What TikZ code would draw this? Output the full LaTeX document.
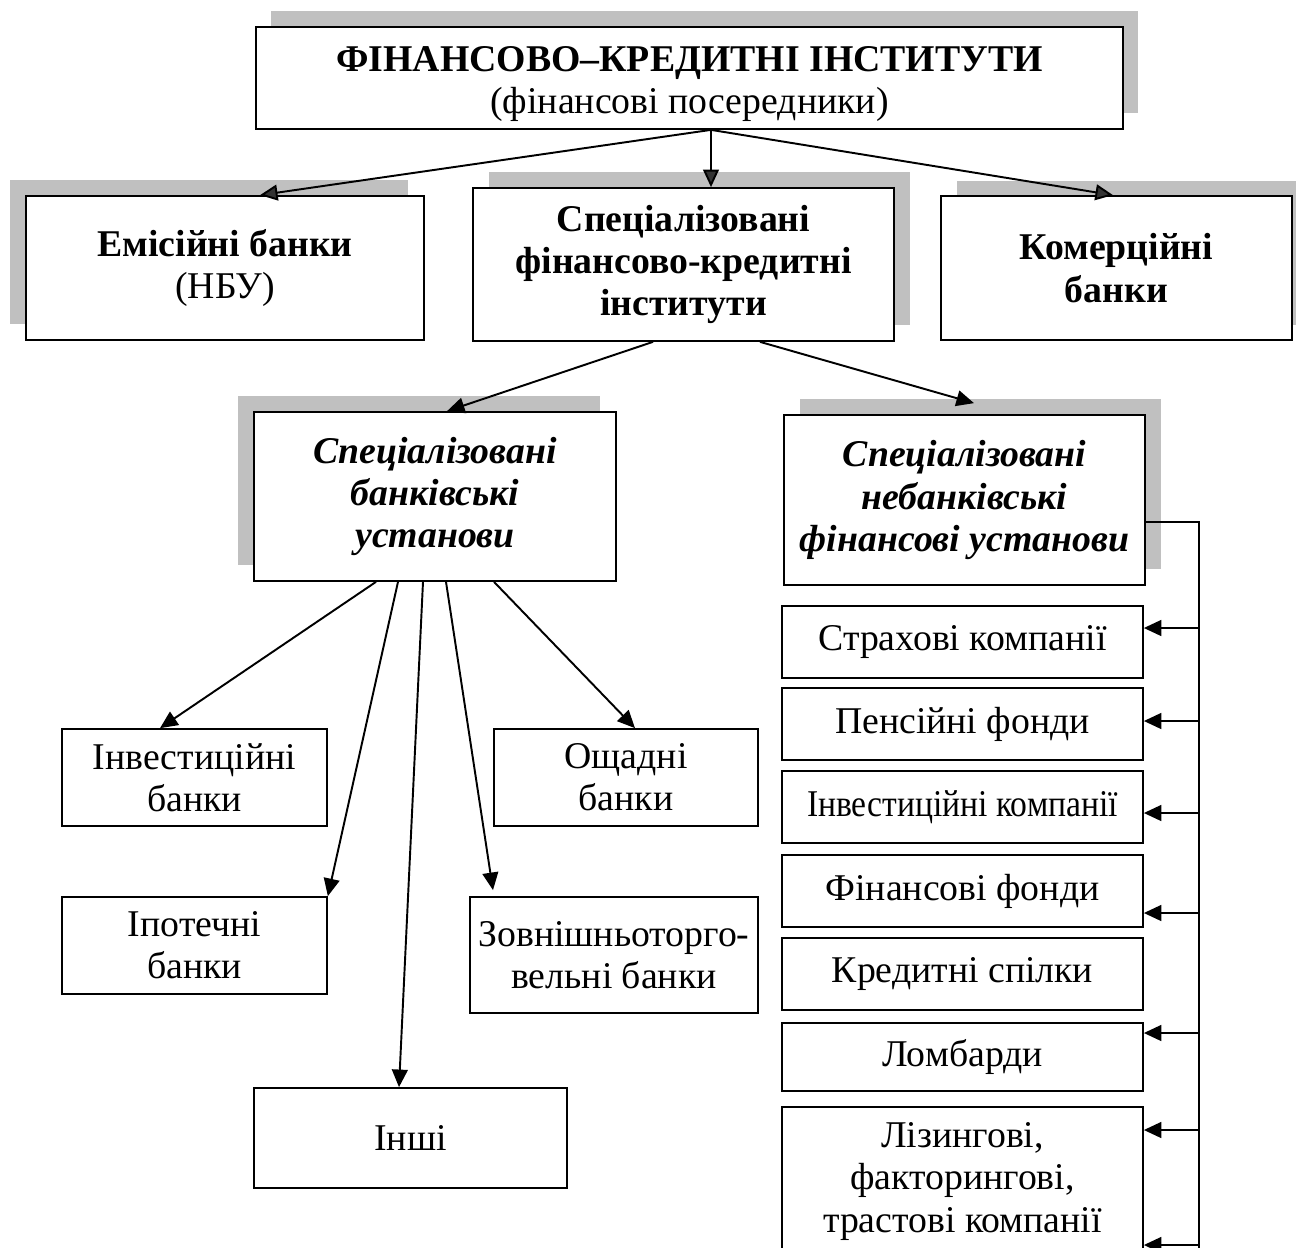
\documentclass[tikz,border=0pt]{standalone}
\usepackage{fontspec}
\usepackage{graphicx}
\setmainfont{Liberation Serif}
\usetikzlibrary{arrows.meta,shadows,calc}
\definecolor{shadegray}{HTML}{C0C0C0}
\begin{document}
\begin{tikzpicture}[x=0.02cm,y=-0.02cm,
  bx/.style={draw, line width=1pt, fill=white, inner sep=0pt, align=center,
    font=\fontsize{21.5}{24}\selectfont},
  bold/.style={font=\fontsize{21.5}{24}\selectfont\bfseries},
  bolditalic/.style={font=\fontsize{21.5}{24}\selectfont\bfseries\itshape},
  shR/.style={general shadow={fill=shadegray, shadow xshift=0.32cm, shadow yshift=0.32cm}},
  shL/.style={general shadow={fill=shadegray, shadow xshift=-0.32cm, shadow yshift=0.32cm}},
  arrT/.style={line width=1.1pt, -{Triangle[length=10pt,width=9pt,fill=black!80]}},
  arr/.style={line width=1.1pt, -{Triangle[length=10pt,width=9pt]}},
  harr/.style={line width=1.3pt, -{Triangle[length=10pt,width=9pt]}},
  trunkline/.style={line width=0.8pt}]

\path[use as bounding box, clip] (0,0) rectangle (1296,1248);

% upper level
\node[bx, general shadow={fill=shadegray, shadow xshift=0.30cm, shadow yshift=0.32cm},
  minimum width=17.34cm, minimum height=2.04cm] (top) at (689.5,78)
  {\rule{0pt}{21pt}\textbf{ФІНАНСОВО–КРЕДИТНІ ІНСТИТУТИ}\\(фінансові посередники)};

\node[bx, shL, minimum width=7.96cm, minimum height=2.88cm] (emis) at (225,268)
  {\textbf{Емісійні банки}\\(НБУ)};
\node[bx, bold, shR, minimum width=8.42cm, minimum height=3.06cm] (mid) at (683.5,264.5)
  {Спеціалізовані\\фінансово-кредитні\\інститути};
\node[bx, bold, general shadow={fill=shadegray, shadow xshift=0.32cm, shadow yshift=0.30cm},
  minimum width=7.02cm, minimum height=2.88cm] (comm) at (1116.5,268)
  {Комерційні\\банки};

% specialised institutions
\node[bx, bolditalic, shL, minimum width=7.24cm, minimum height=3.38cm] (sbank) at (435,496.5)
  {Спеціалізовані\\банківські\\установи};
\node[bx, bolditalic, shR, minimum width=7.22cm, minimum height=3.40cm] (nonb) at (964.5,500)
  {Спеціалізовані\\небанківські\\фінансові установи};

% banking institutions
\node[bx, minimum width=5.30cm, minimum height=1.94cm] (invb) at (194.5,777.5) {Інвестиційні\\банки};
\node[bx, minimum width=5.30cm, minimum height=1.94cm] (ipot) at (194.5,945.5) {Іпотечні\\банки};
\node[bx, minimum width=5.28cm, minimum height=1.94cm] (osch) at (626,777.5) {Ощадні\\банки};
\node[bx, minimum width=5.76cm, minimum height=2.32cm] (zovn) at (614,955) {Зовнішньоторго-\\вельні банки};
\node[bx, minimum width=6.26cm, minimum height=2.00cm] (inshi) at (410.5,1138) {Інші};

% non-bank institutions
\node[bx, minimum width=7.22cm, minimum height=1.44cm] (strakh) at (962.5,642) {Страхові компанії};
\node[bx, minimum width=7.22cm, minimum height=1.44cm] (pens) at (962.5,724) {Пенсійні фонди};
\node[bx, minimum width=7.22cm, minimum height=1.44cm] (invk) at (962.5,807) {\scalebox{0.89}[1]{Інвестиційні компанії}};
\node[bx, minimum width=7.22cm, minimum height=1.44cm] (finf) at (962.5,891) {Фінансові фонди};
\node[bx, minimum width=7.22cm, minimum height=1.44cm] (kred) at (962.5,974) {Кредитні спілки};
\node[bx, minimum width=7.22cm, minimum height=1.36cm] (lomb) at (962.5,1057) {Ломбарди};
\node[bx, minimum width=7.22cm, minimum height=2.98cm] (lizing) at (962.5,1181.5)
  {Лізингові,\\факторингові,\\трастові компанії};

% connectors from the main box
\coordinate (src) at (top.south -| 711,0);
\draw[arrT] (src) -- (emis.north -| 260,0);
\draw[arrT] (src) -- (mid.north -| 711,0);
\draw[arrT] (src) -- (comm.north -| 1113,0);
\draw[arr] (mid.south -| 653,0) -- (sbank.north -| 447,0);
\draw[arr] (mid.south -| 760,0) -- ($(nonb.north -| 974,0)+(0,-11)$);

% banking branches
\draw[arr] (sbank.south -| 376,0) -- (invb.north -| 160,0);
\draw[arr] (sbank.south -| 398,0) -- (ipot.north east);
\draw[arr] (sbank.south -| 423,0) -- (inshi.north -| 399,0);
\draw[arr] (sbank.south -| 446,0) -- ($(zovn.north -| 493,0)+(0,-6)$);
\draw[arr] (sbank.south -| 494,0) -- (osch.north -| 635,0);

% trunk on the right
\coordinate (tTop) at (1199,522);
\coordinate (tBot) at (1199,1260);
\draw[trunkline] (nonb.east |- tTop) -- (tTop) -- (tBot);
\draw[harr] (tTop |- 0,628) -- (strakh.east |- 0,628);
\draw[harr] (tTop |- 0,721) -- (pens.east |- 0,721);
\draw[harr] (tTop |- 0,813) -- (invk.east |- 0,813);
\draw[harr] (tTop |- 0,913) -- (finf.east |- 0,913);
\draw[harr] (tTop |- 0,1033) -- (lomb.east |- 0,1033);
\draw[harr] (tTop |- 0,1130) -- (lizing.east |- 0,1130);
\draw[harr] (tTop |- 0,1245) -- (lizing.east |- 0,1245);
\end{tikzpicture}
\end{document}
